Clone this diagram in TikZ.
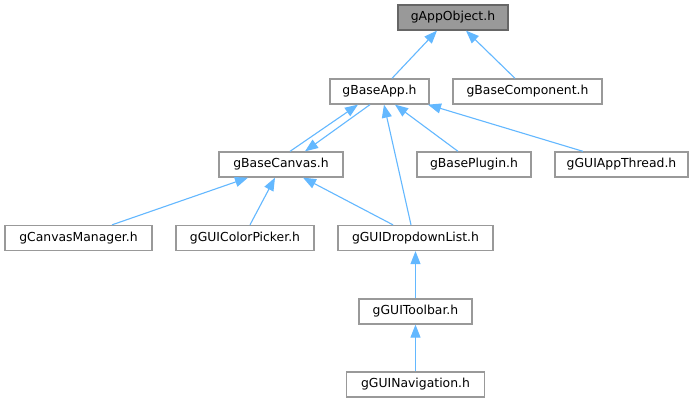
\documentclass[tikz,border=0pt]{standalone}
\usepackage{fontspec}
\setmainfont{DejaVu Sans}
\usetikzlibrary{arrows.meta}
\definecolor{edgeblue}{HTML}{63B8FF}
\definecolor{boxgray}{HTML}{999999}
\definecolor{rootborder}{HTML}{666666}
\tikzset{
  filebox/.style={draw=boxgray, fill=white, line width=1.3pt, rectangle, inner sep=0pt,
    minimum height=25pt, font=\fontsize{12.4}{14}\selectfont, text=black},
  rootbox/.style={filebox, draw=rootborder, fill=boxgray},
  incl/.style={draw=edgeblue, line width=1.1pt, -{Triangle[length=13pt,width=10pt]}},
}
\begin{document}
\begin{tikzpicture}[x=1pt,y=-1pt]
\useasboundingbox (0,0) rectangle (697,403);
\fill[white] (0,0) rectangle (697,403);
% nodes
\node[rootbox, minimum width=110pt] (obj) at (453,17.5) {gAppObject.h};
\node[filebox, minimum width=99pt] (app) at (379.5,91.5) {gBaseApp.h};
\node[filebox, minimum width=149pt] (comp) at (527.5,91.5) {gBaseComponent.h};
\node[filebox, minimum width=124pt] (canvas) at (281,164.5) {gBaseCanvas.h};
\node[filebox, minimum width=114pt] (plugin) at (474,164.5) {gBasePlugin.h};
\node[filebox, minimum width=133pt] (thread) at (621.5,164.5) {gGUIAppThread.h};
\node[filebox, minimum width=147pt] (cman) at (78.5,238) {gCanvasManager.h};
\node[filebox, minimum width=138pt] (picker) at (245,238) {gGUIColorPicker.h};
\node[filebox, minimum width=155pt] (drop) at (415.5,238) {gGUIDropdownList.h};
\node[filebox, minimum width=113pt] (tool) at (415.5,311.5) {gGUIToolbar.h};
\node[filebox, minimum width=138pt] (nav) at (415.5,384.5) {gGUINavigation.h};
% edges
\draw[incl] ([xshift=12.5pt]app.north) -- ([xshift=-16pt]obj.south);
\draw[incl] ([xshift=-12.5pt]comp.north) -- ([xshift=13pt]obj.south);
\draw[incl] ([xshift=9pt]canvas.north) -- ([xshift=-21.5pt]app.south);
\draw[incl] ([xshift=-9.5pt]app.south) -- ([xshift=24pt]canvas.north);
\draw[incl] ([xshift=-16pt]plugin.north) -- ([xshift=15.5pt]app.south);
\draw[incl] ([xshift=-38.5pt]thread.north) -- ([xshift=48.5pt]app.south);
\draw[incl] ([xshift=-4.5pt]drop.north) -- ([xshift=4.5pt]app.south);
\draw[incl] ([xshift=33.5pt]cman.north) -- ([xshift=-33pt]canvas.south);
\draw[incl] ([xshift=5pt]picker.north) -- ([xshift=-6pt]canvas.south);
\draw[incl] ([xshift=-22.5pt]drop.north) -- ([xshift=22pt]canvas.south);
\draw[incl] (tool.north) -- (drop.south);
\draw[incl] (nav.north) -- (tool.south);
\end{tikzpicture}
\end{document}
